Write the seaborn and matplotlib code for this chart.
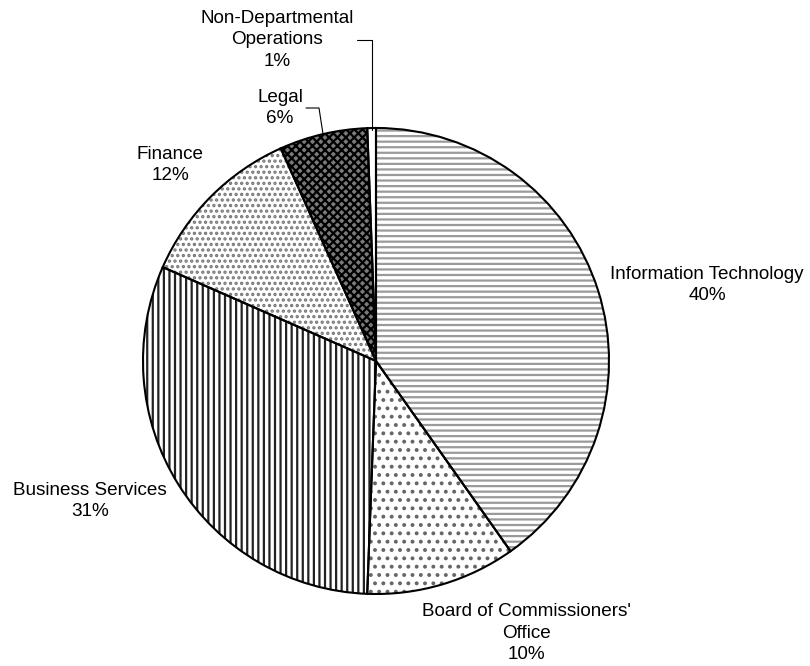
import numpy as np
import matplotlib
matplotlib.use("Agg")
import matplotlib.pyplot as plt
import seaborn as sns

# budget share by department (clockwise from 12 o'clock)
departments = ["Information Technology", "Board of Commissioners'\nOffice",
               "Business Services", "Finance", "Legal",
               "Non-Departmental\nOperations"]
shares = [40.2, 10.4, 31.0, 11.7, 6.1, 0.6]

hatches = ["---", "..", "|||", "...", "xxxx", ""]
hatch_colors = ["#9a9a9a", "#666666", "#222222", "#777777", "#000000", "white"]
face_colors = ["white", "white", "white", "white", "#7a7a7a", "white"]

# label block centres (pixels in the 810x666 image)
label_pos = [(707, 285), (526, 633), (90, 501), (170, 165), (280, 108), (277, 40)]

sns.set_theme(style="white")
plt.rcParams["font.family"] = ["Liberation Sans", "DejaVu Sans"]
plt.rcParams["hatch.linewidth"] = 1.6

cx, cy, r = 376, 361, 233
W, H = 810, 666

fig = plt.figure(figsize=(8.1, 6.66), dpi=100)
ax = fig.add_axes([0, 0, 1, 1])

# hatched fill first
wedges, _ = ax.pie(shares, startangle=90, counterclock=False, radius=1,
                   colors=face_colors, hatch=hatches,
                   wedgeprops=dict(linewidth=0))
for w, hc in zip(wedges, hatch_colors):
    w.set_edgecolor(hc)
    w.set_linewidth(0)

# black outlines on top
outl, _ = ax.pie(shares, startangle=90, counterclock=False, radius=1,
                 wedgeprops=dict(fill=False, edgecolor="black", linewidth=1.5))

ax.set_xlim(-cx / r, (W - cx) / r)
ax.set_ylim(-(H - cy) / r, cy / r)
ax.set_aspect("equal")
ax.axis("off")


def px(x, y):
    return (x - cx) / r, (cy - y) / r


total = sum(shares)
for name, val, (lx, ly) in zip(departments, shares, label_pos):
    tx, ty = px(lx, ly)
    ax.text(tx, ty, f"{name}\n{round(val / total * 100)}%", ha="center",
            va="center", multialignment="center", fontsize=13.6,
            linespacing=1.38, color="black")

# leader lines for the two small slices
for pts in ([(357, 40), (372, 40), (372, 130)],
            [(306, 108), (319, 108), (323, 134)]):
    xs, ys = zip(*[px(*p) for p in pts])
    ax.plot(xs, ys, color="black", linewidth=0.8)

fig.savefig("out.png", dpi=100, facecolor="white")
